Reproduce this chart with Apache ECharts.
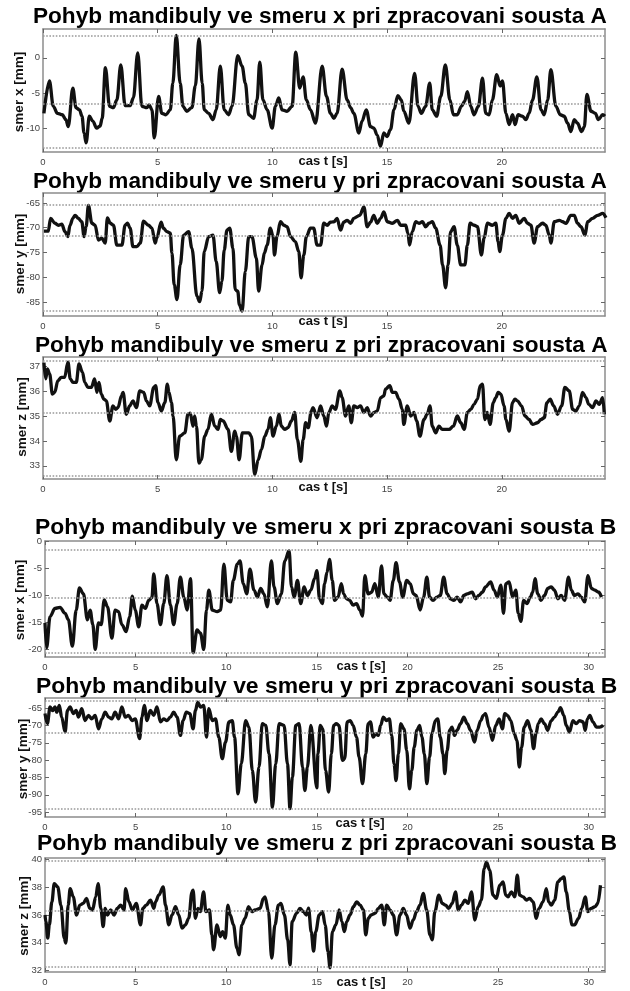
<!DOCTYPE html>
<html><head><meta charset="utf-8">
<script src="https://cdn.jsdelivr.net/npm/echarts@6/dist/echarts.min.js"></script>
<style>html,body{margin:0;padding:0;background:#fff}#c{width:630px;height:991px}</style>
</head><body><div id="c"></div>
<script>
// ---------------- data ----------------
const titles = [
  'Pohyb mandibuly ve smeru x pri zpracovani sousta A',
  'Pohyb mandibuly ve smeru y pri zpracovani sousta A',
  'Pohyb mandibuly ve smeru z pri zpracovani sousta A',
  'Pohyb mandibuly ve smeru x pri zpracovani sousta B',
  'Pohyb mandibuly ve smeru y pri zpracovani sousta B',
  'Pohyb mandibuly ve smeru z pri zpracovani sousta B'
];
const yNames = ['smer x [mm]','smer y [mm]','smer z [mm]','smer x [mm]','smer y [mm]','smer z [mm]'];
const xName = 'cas t [s]';
const xTicksA = [0,5,10,15,20];
const xTicksB = [0,5,10,15,20,25,30];
const xRanges = [[0,24.5],[0,24.5],[0,24.5],[0,30.9],[0,30.9],[0,30.9]];
const yRanges = [[-13.4,4.1],[-87.8,-63.0],[32.47,37.37],[-21.5,0],[-96.4,-62.1],[31.9,40.1]];
const yTicks = [[-10,-5,0],[-85,-80,-75,-70,-65],[33,34,35,36,37],[-20,-15,-10,-5,0],[-95,-90,-85,-80,-75,-70,-65],[32,34,36,38,40]];
// max / mean / min reference lines
const refLines = [[3.1,-6.6,-12.8],[-65.4,-71.6,-86.8],[37.2,35.15,32.6],[-1.7,-10.6,-20.7],[-63.0,-72.0,-94.0],[39.9,36.3,32.3]];

const xA = [[0.04,-7.9],[0.28,-3.3],[0.45,-6.9],[0.63,-7.9],[0.84,-8.1],[1.0,-8.8],[1.1,-9.8],[1.3,-4.3],[1.44,-7.1],[1.59,-7.4],[1.70,-8.3],[1.79,-10.7],[1.88,-12.1],[2.02,-8.3],[2.17,-9.0],[2.34,-10.0],[2.49,-9.7],[2.58,-8.6],[2.72,-1.4],[2.90,-6.9],[3.07,-7.1],[3.22,-6.0],[3.39,-1.0],[3.58,-6.8],[3.80,-6.8],[3.94,-5.7],[4.13,0.7],[4.31,-6.9],[4.53,-7.1],[4.63,-6.7],[4.75,-7.4],[4.85,-11.4],[5.04,-5.5],[5.18,-7.9],[5.36,-8.1],[5.55,-7.4],[5.66,-3.6],[5.81,3.2],[5.98,-3.6],[6.10,-6.9],[6.27,-7.6],[6.49,-7.1],[6.64,-4.0],[6.80,2.7],[6.94,-3.6],[7.03,-7.4],[7.22,-7.9],[7.41,-8.8],[7.55,-7.4],[7.73,-1.2],[7.90,-7.4],[8.09,-8.1],[8.24,-6.9],[8.49,0.3],[8.68,-1.2],[8.82,-3.6],[8.97,-8.1],[9.18,-8.6],[9.33,-6.0],[9.45,-0.6],[9.59,-6.0],[9.77,-7.4],[9.99,-10.0],[10.13,-6.9],[10.28,-5.7],[10.42,-7.4],[10.64,-7.6],[10.86,-6.9],[11.02,0.8],[11.19,-4.3],[11.34,-2.7],[11.48,-6.0],[11.66,-7.4],[11.88,-9.3],[12.17,-1.2],[12.36,-5.5],[12.53,-7.9],[12.68,-8.6],[12.82,-7.9],[13.04,-1.6],[13.26,-6.0],[13.41,-7.1],[13.55,-7.9],[13.77,-10.7],[13.91,-9.0],[14.09,-7.4],[14.28,-9.8],[14.42,-10.0],[14.57,-11.0],[14.71,-12.6],[14.86,-10.7],[15.00,-11.2],[15.15,-10.2],[15.30,-7.4],[15.47,-5.4],[15.62,-6.0],[15.73,-7.6],[15.95,-9.3],[16.20,-2.2],[16.35,-6.9],[16.49,-7.9],[16.68,-6.9],[16.86,-3.6],[16.97,-7.4],[17.16,-8.3],[17.34,-5.5],[17.54,-1.0],[17.74,-6.0],[17.89,-8.1],[18.06,-8.1],[18.24,-6.9],[18.38,-6.2],[18.50,-4.8],[18.65,-6.9],[18.79,-8.1],[18.98,-6.9],[19.16,-2.9],[19.30,-7.9],[19.45,-8.1],[19.59,-6.0],[19.78,-2.4],[19.93,-4.0],[20.03,-3.3],[20.18,-7.9],[20.32,-9.5],[20.47,-8.1],[20.58,-9.5],[20.71,-8.1],[20.90,-8.3],[21.05,-8.8],[21.19,-7.9],[21.34,-6.0],[21.53,-2.7],[21.71,-7.4],[21.85,-8.1],[22.00,-6.0],[22.14,-1.7],[22.36,-6.9],[22.55,-8.1],[22.72,-8.3],[22.87,-9.3],[23.01,-10.5],[23.16,-8.8],[23.30,-9.3],[23.48,-10.5],[23.60,-9.8],[23.71,-5.2],[23.89,-7.6],[24.08,-7.9],[24.21,-8.8],[24.40,-8.1],[24.50,-8.3]];

const yA = [[0.04,-70.7],[0.23,-70.7],[0.33,-68.1],[0.52,-69.1],[0.67,-69.5],[0.82,-69.3],[0.96,-70.8],[1.08,-71.8],[1.18,-69.5],[1.30,-68.1],[1.40,-67.5],[1.54,-68.1],[1.69,-68.8],[1.79,-71.8],[1.88,-69.8],[1.98,-65.5],[2.13,-69.1],[2.27,-69.5],[2.42,-72.5],[2.56,-72.1],[2.71,-73.1],[2.81,-68.0],[2.93,-69.1],[3.07,-69.5],[3.22,-73.5],[3.44,-73.5],[3.58,-69.5],[3.68,-69.1],[3.80,-70.1],[3.92,-73.8],[4.09,-73.8],[4.24,-73.1],[4.38,-68.7],[4.60,-69.5],[4.75,-70.1],[4.89,-73.1],[4.96,-72.1],[5.15,-68.9],[5.25,-70.1],[5.40,-70.8],[5.55,-71.1],[5.62,-75.1],[5.72,-81.5],[5.84,-84.5],[5.98,-77.5],[6.13,-71.5],[6.35,-70.8],[6.49,-74.1],[6.71,-83.8],[6.83,-84.9],[6.93,-82.8],[7.03,-74.8],[7.22,-71.8],[7.41,-71.5],[7.55,-76.8],[7.70,-83.1],[7.80,-80.8],[7.90,-74.5],[8.02,-70.5],[8.14,-70.1],[8.28,-74.1],[8.38,-82.5],[8.49,-82.8],[8.56,-85.5],[8.68,-86.8],[8.82,-78.8],[8.97,-71.8],[9.11,-71.8],[9.30,-76.1],[9.40,-82.8],[9.55,-77.5],[9.65,-75.1],[9.77,-73.5],[9.91,-70.1],[10.03,-71.8],[10.09,-75.5],[10.20,-71.8],[10.35,-68.8],[10.50,-69.5],[10.64,-69.8],[10.79,-71.8],[11.00,-72.8],[11.15,-74.8],[11.25,-80.1],[11.37,-75.5],[11.48,-71.8],[11.66,-70.1],[11.80,-70.1],[11.95,-73.5],[12.10,-73.5],[12.24,-69.1],[12.39,-69.5],[12.53,-68.9],[12.68,-68.8],[12.82,-68.1],[12.97,-70.5],[13.11,-68.9],[13.26,-68.5],[13.41,-69.1],[13.55,-68.1],[13.81,-67.5],[13.99,-65.8],[14.13,-69.8],[14.28,-68.9],[14.42,-67.5],[14.57,-69.1],[14.72,-68.1],[14.86,-66.8],[15.01,-68.8],[15.23,-69.1],[15.45,-68.5],[15.59,-69.5],[15.81,-69.5],[15.91,-71.1],[15.98,-73.5],[16.10,-70.8],[16.25,-68.8],[16.39,-69.1],[16.54,-68.8],[16.68,-69.8],[16.83,-69.1],[16.97,-68.8],[17.12,-70.1],[17.31,-73.5],[17.42,-77.5],[17.55,-82.1],[17.66,-77.5],[17.77,-70.8],[17.92,-69.8],[18.06,-73.5],[18.21,-77.5],[18.39,-77.5],[18.50,-73.5],[18.62,-69.1],[18.79,-69.5],[18.94,-69.8],[19.11,-75.5],[19.23,-72.1],[19.37,-69.1],[19.59,-69.5],[19.74,-69.1],[19.84,-72.8],[19.91,-74.8],[20.03,-71.5],[20.18,-68.1],[20.32,-67.1],[20.47,-68.1],[20.61,-67.5],[20.76,-69.1],[20.98,-68.1],[21.12,-69.1],[21.27,-69.5],[21.41,-73.1],[21.56,-69.8],[21.78,-69.1],[21.92,-69.5],[22.07,-71.5],[22.14,-73.1],[22.29,-68.8],[22.51,-68.5],[22.65,-68.8],[22.80,-69.1],[23.01,-67.5],[23.16,-67.5],[23.30,-69.1],[23.45,-69.8],[23.63,-71.5],[23.74,-68.8],[23.96,-68.1],[24.18,-67.5],[24.40,-67.1],[24.54,-68.0]];

const zA = [[0.04,37.14],[0.12,36.49],[0.19,36.89],[0.29,36.69],[0.41,35.88],[0.51,35.95],[0.65,36.42],[0.80,36.55],[0.94,36.55],[1.09,37.16],[1.19,36.49],[1.31,36.35],[1.45,36.35],[1.57,37.09],[1.72,36.76],[1.82,36.35],[1.96,36.15],[2.11,36.15],[2.25,36.49],[2.35,35.95],[2.44,36.35],[2.54,35.88],[2.65,35.68],[2.76,35.61],[2.91,34.80],[3.05,35.41],[3.17,35.27],[3.27,35.34],[3.42,35.81],[3.49,35.95],[3.63,35.07],[3.78,35.41],[3.92,35.61],[4.07,35.34],[4.22,36.01],[4.39,35.95],[4.51,35.61],[4.65,35.41],[4.83,36.15],[4.91,36.22],[5.01,35.54],[5.16,35.20],[5.31,35.54],[5.42,36.28],[5.49,35.95],[5.60,35.54],[5.67,35.0],[5.81,33.24],[5.96,34.19],[6.18,34.32],[6.32,35.07],[6.42,35.11],[6.54,34.59],[6.61,35.0],[6.69,34.59],[6.80,33.11],[6.90,33.24],[7.05,34.19],[7.19,34.46],[7.34,35.07],[7.49,34.59],[7.63,34.46],[7.73,34.86],[7.85,34.80],[8.07,34.46],[8.21,33.58],[8.36,34.39],[8.43,34.19],[8.55,33.24],[8.69,34.32],[8.84,34.32],[8.98,34.32],[9.08,34.19],[9.23,32.64],[9.38,33.24],[9.52,33.65],[9.67,34.19],[9.81,34.46],[9.91,34.93],[10.03,34.19],[10.17,34.59],[10.29,35.07],[10.39,34.59],[10.54,34.46],[10.68,34.53],[10.83,34.80],[10.97,35.14],[11.09,34.05],[11.24,33.18],[11.34,34.05],[11.45,34.73],[11.56,34.53],[11.70,35.20],[11.77,35.34],[11.95,34.93],[12.10,35.41],[12.24,35.0],[12.36,34.59],[12.46,35.14],[12.61,35.41],[12.75,35.27],[12.94,36.01],[13.04,35.74],[13.19,35.0],[13.33,35.41],[13.44,34.73],[13.55,35.41],[13.70,35.34],[13.84,35.41],[13.99,35.14],[14.13,35.34],[14.28,35.0],[14.43,35.14],[14.57,35.20],[14.72,35.74],[14.86,35.81],[14.93,36.08],[15.12,36.22],[15.23,35.95],[15.37,35.95],[15.52,35.68],[15.66,35.27],[15.73,34.66],[15.88,35.41],[16.03,35.0],[16.17,35.14],[16.29,34.80],[16.43,34.19],[16.61,34.86],[16.75,35.07],[16.87,35.41],[16.97,34.59],[17.12,34.32],[17.26,34.59],[17.41,34.46],[17.55,34.46],[17.70,34.46],[17.89,34.59],[18.06,35.0],[18.21,34.73],[18.36,34.46],[18.50,35.14],[18.65,35.27],[18.79,35.47],[18.94,35.68],[19.06,36.22],[19.16,36.28],[19.26,34.86],[19.37,35.14],[19.49,34.66],[19.63,35.54],[19.74,35.74],[19.84,35.95],[19.96,35.88],[20.10,35.41],[20.18,34.86],[20.32,34.39],[20.47,35.54],[20.57,35.68],[20.68,35.61],[20.86,35.41],[21.01,35.0],[21.19,34.86],[21.34,34.66],[21.56,34.73],[21.71,34.86],[21.85,34.93],[21.97,35.54],[22.11,35.68],[22.26,35.41],[22.43,35.07],[22.61,35.41],[22.75,36.15],[22.94,36.01],[23.09,35.27],[23.23,35.20],[23.38,35.41],[23.52,35.95],[23.67,35.74],[23.79,35.47],[23.96,35.34],[24.11,35.61],[24.25,35.47],[24.40,35.74],[24.47,35.07]];

const xB = [[0,-15.2],[0.09,-19.8],[0.28,-14.0],[0.55,-12.5],[0.83,-12.3],[1.11,-13.4],[1.29,-14.6],[1.51,-19.5],[1.72,-12.8],[1.90,-8.7],[2.12,-9.8],[2.34,-14.6],[2.49,-12.8],[2.64,-15.5],[2.77,-20.1],[2.95,-15.2],[3.10,-15.5],[3.27,-10.9],[3.45,-12.2],[3.69,-18.0],[3.87,-12.8],[4.06,-13.1],[4.24,-15.5],[4.48,-16.8],[4.67,-14.0],[4.82,-10.2],[4.98,-12.8],[5.17,-15.9],[5.35,-11.9],[5.54,-12.5],[5.72,-11.0],[5.90,-10.5],[6.00,-6.1],[6.18,-11.6],[6.37,-15.5],[6.55,-11.6],[6.73,-6.4],[6.92,-11.9],[7.10,-15.5],[7.29,-11.6],[7.47,-6.7],[7.66,-10.4],[7.84,-12.8],[8.03,-7.0],[8.17,-20.7],[8.39,-16.5],[8.58,-17.1],[8.76,-20.1],[8.91,-12.8],[9.04,-9.1],[9.23,-12.8],[9.50,-13.1],[9.69,-12.8],[9.87,-4.3],[10.06,-11.0],[10.24,-11.3],[10.39,-7.3],[10.61,-4.3],[10.76,-3.7],[10.94,-7.9],[11.13,-9.8],[11.31,-5.2],[11.53,-9.1],[11.72,-10.4],[11.90,-8.8],[12.08,-9.8],[12.27,-12.2],[12.49,-3.7],[12.64,-8.5],[12.82,-11.6],[13.04,-9.8],[13.23,-3.7],[13.47,-1.8],[13.60,-8.5],[13.75,-10.4],[13.93,-7.3],[14.11,-11.6],[14.30,-8.5],[14.48,-10.1],[14.67,-9.1],[14.87,-7.0],[15.0,-5.5],[15.15,-10.7],[15.30,-11.6],[15.43,-7.9],[15.56,-5.8],[15.70,-3.4],[15.85,-7.3],[15.98,-11.0],[16.17,-10.4],[16.35,-7.9],[16.48,-9.8],[16.63,-10.7],[16.81,-11.0],[17.0,-11.9],[17.19,-11.6],[17.37,-12.8],[17.52,-13.9],[17.65,-6.4],[17.83,-9.8],[18.02,-9.5],[18.20,-7.9],[18.39,-10.4],[18.57,-4.6],[18.70,-9.8],[18.89,-10.4],[19.04,-11.0],[19.22,-7.3],[19.37,-4.0],[19.56,-7.6],[19.74,-10.4],[19.96,-7.3],[20.15,-7.9],[20.33,-9.8],[20.48,-10.1],[20.70,-12.8],[20.89,-10.4],[21.07,-6.7],[21.22,-10.4],[21.41,-11.0],[21.63,-10.4],[21.81,-10.1],[22.0,-6.7],[22.19,-9.8],[22.37,-10.7],[22.56,-11.0],[22.74,-10.4],[22.93,-11.3],[23.11,-10.1],[23.30,-9.8],[23.57,-9.5],[23.76,-10.7],[23.94,-10.1],[24.13,-9.5],[24.31,-8.5],[24.59,-7.6],[24.78,-9.1],[24.96,-10.4],[25.15,-8.2],[25.30,-13.4],[25.43,-7.9],[25.61,-7.6],[25.80,-10.4],[25.98,-9.1],[26.11,-13.4],[26.26,-14.9],[26.41,-11.0],[26.59,-11.6],[26.78,-10.4],[26.91,-9.5],[27.04,-7.0],[27.19,-9.8],[27.37,-11.0],[27.56,-10.1],[27.74,-8.8],[27.93,-8.5],[28.11,-9.1],[28.30,-10.7],[28.48,-10.1],[28.67,-11.0],[28.89,-6.7],[29.04,-9.1],[29.22,-10.1],[29.41,-9.8],[29.59,-10.4],[29.78,-11.3],[29.96,-6.4],[30.15,-8.8],[30.33,-9.1],[30.56,-9.5],[30.70,-10.4]];

const yB = [[0,-66.6],[0.13,-69.5],[0.28,-64.7],[0.42,-65.7],[0.55,-64.7],[0.65,-66.2],[0.79,-64.2],[0.92,-67.6],[1.11,-71.9],[1.24,-65.7],[1.38,-64.7],[1.57,-66.6],[1.72,-65.7],[1.85,-67.6],[2.03,-65.2],[2.21,-68.6],[2.40,-67.1],[2.58,-68.1],[2.77,-67.1],[2.95,-71.0],[3.14,-68.1],[3.32,-66.2],[3.51,-67.6],[3.69,-68.1],[3.87,-66.2],[4.06,-68.1],[4.24,-64.7],[4.43,-67.6],[4.61,-67.1],[4.80,-68.6],[4.98,-68.1],[5.22,-73.8],[5.35,-67.6],[5.48,-64.2],[5.63,-68.6],[5.81,-65.7],[6.0,-67.1],[6.18,-64.7],[6.37,-69.0],[6.55,-68.1],[6.73,-68.6],[6.92,-67.6],[7.10,-66.2],[7.29,-67.6],[7.47,-72.9],[7.62,-68.6],[7.80,-66.2],[7.99,-66.6],[8.17,-71.0],[8.30,-65.7],[8.43,-63.3],[8.58,-64.7],[8.76,-64.2],[8.91,-73.4],[9.04,-65.2],[9.23,-68.6],[9.41,-68.1],[9.59,-73.4],[9.78,-79.6],[9.96,-74.8],[10.15,-69.0],[10.33,-68.6],[10.46,-73.4],[10.65,-89.7],[10.83,-81.1],[11.07,-68.6],[11.25,-70.5],[11.44,-83.0],[11.62,-92.1],[11.81,-82.0],[11.99,-69.5],[12.18,-70.0],[12.36,-78.2],[12.55,-93.6],[12.73,-81.1],[12.92,-69.5],[13.19,-70.0],[13.38,-81.1],[13.52,-94.0],[13.65,-84.9],[13.84,-70.0],[14.02,-69.5],[14.21,-82.0],[14.34,-88.8],[14.48,-82.0],[14.67,-70.0],[15.0,-88.0],[15.06,-78.2],[15.19,-70.0],[15.33,-71.0],[15.48,-83.0],[15.65,-89.2],[15.80,-78.2],[15.93,-70.0],[16.07,-69.5],[16.22,-70.0],[16.41,-80.1],[16.54,-79.6],[16.67,-69.0],[16.85,-68.6],[17.0,-70.0],[17.19,-73.4],[17.33,-79.1],[17.52,-86.8],[17.70,-78.2],[17.83,-69.5],[17.96,-69.0],[18.11,-73.4],[18.24,-72.4],[18.39,-72.9],[18.52,-70.0],[18.67,-67.6],[18.85,-68.6],[19.0,-68.1],[19.13,-72.9],[19.26,-81.1],[19.37,-85.9],[19.50,-78.2],[19.63,-69.5],[19.81,-71.0],[19.96,-77.2],[20.11,-88.3],[20.24,-83.0],[20.37,-76.3],[20.52,-71.4],[20.67,-70.0],[20.80,-73.4],[20.93,-78.2],[21.07,-86.8],[21.22,-79.1],[21.35,-72.4],[21.54,-68.6],[21.67,-68.1],[21.81,-73.4],[21.96,-78.2],[22.06,-83.9],[22.19,-77.2],[22.33,-71.4],[22.46,-70.5],[22.59,-72.9],[22.74,-71.4],[22.93,-69.5],[23.11,-67.6],[23.30,-69.5],[23.48,-71.4],[23.70,-74.8],[23.85,-71.4],[24.04,-68.6],[24.19,-67.1],[24.31,-66.6],[24.50,-70.5],[24.69,-74.3],[24.87,-70.0],[25.06,-68.1],[25.24,-71.0],[25.37,-66.6],[25.52,-67.1],[25.70,-68.6],[25.89,-72.4],[26.04,-74.3],[26.17,-82.0],[26.30,-76.3],[26.44,-70.5],[26.63,-68.6],[26.81,-71.4],[26.96,-76.7],[27.09,-72.4],[27.22,-69.5],[27.37,-68.1],[27.56,-69.5],[27.74,-71.4],[27.93,-68.6],[28.11,-67.6],[28.30,-66.2],[28.44,-64.9],[28.63,-67.1],[28.76,-70.0],[28.94,-71.9],[29.13,-68.6],[29.31,-69.5],[29.50,-68.6],[29.69,-69.0],[29.81,-71.4],[29.93,-68.1],[30.06,-67.1],[30.24,-69.0],[30.43,-70.5],[30.61,-70.5],[30.80,-70.0]];

const zB = [[0,36.0],[0.05,35.52],[0.15,34.33],[0.24,35.29],[0.38,36.95],[0.51,38.26],[0.70,38.02],[0.88,36.71],[1.06,34.33],[1.15,33.98],[1.28,36.71],[1.39,37.90],[1.56,37.31],[1.74,36.0],[1.92,36.71],[2.11,36.83],[2.29,37.19],[2.47,36.48],[2.62,36.36],[2.80,37.31],[2.93,38.26],[3.08,36.48],[3.21,35.17],[3.32,36.48],[3.44,36.0],[3.63,36.36],[3.81,36.0],[3.99,36.48],[4.18,36.71],[4.36,36.36],[4.45,37.90],[4.63,36.95],[4.82,36.36],[5.04,36.83],[5.27,35.29],[5.40,36.48],[5.59,36.71],[5.82,37.07],[6.01,36.48],[6.10,36.95],[6.28,37.43],[6.52,38.02],[6.65,36.71],[6.83,35.29],[7.01,36.0],[7.20,36.60],[7.38,36.0],[7.56,35.05],[7.75,35.29],[7.93,35.76],[8.11,37.67],[8.17,37.79],[8.30,35.76],[8.44,36.48],[8.57,36.24],[8.75,37.67],[8.88,36.24],[9.07,36.36],[9.21,34.57],[9.30,33.50],[9.49,35.29],[9.67,34.45],[9.80,34.81],[9.95,34.33],[10.09,36.71],[10.22,36.0],[10.40,35.29],[10.59,33.62],[10.71,33.14],[10.86,35.29],[11.04,35.76],[11.23,36.60],[11.41,36.24],[11.59,36.36],[11.87,36.48],[12.05,37.19],[12.14,37.31],[12.33,36.24],[12.51,32.90],[12.69,35.29],[12.88,36.71],[13.02,36.83],[13.21,36.0],[13.39,34.21],[13.52,32.43],[13.64,35.52],[13.88,36.12],[14.07,36.48],[14.25,36.24],[14.43,36.0],[14.54,36.5],[14.69,34.8],[14.82,33.4],[14.94,34.8],[15.13,36.0],[15.31,36.24],[15.46,35.29],[15.61,33.38],[15.73,32.19],[15.86,34.81],[16.05,35.29],[16.23,36.36],[16.38,35.52],[16.52,34.81],[16.65,35.52],[16.83,36.0],[17.02,36.60],[17.20,36.95],[17.39,36.71],[17.57,36.36],[17.70,34.57],[17.84,35.76],[17.99,36.0],[18.21,36.12],[18.39,36.48],[18.58,36.71],[18.72,35.29],[18.85,36.71],[19.04,36.36],[19.22,36.0],[19.40,34.57],[19.59,36.0],[19.77,36.48],[19.95,36.0],[20.14,35.05],[20.32,35.64],[20.50,36.24],[20.69,36.71],[20.87,37.55],[21.06,36.36],[21.24,34.57],[21.37,34.21],[21.51,36.24],[21.73,37.43],[21.92,36.83],[22.10,36.71],[22.28,36.48],[22.47,36.83],[22.65,37.67],[22.80,36.36],[22.98,36.71],[23.17,37.07],[23.35,36.83],[23.53,37.67],[23.72,35.64],[23.90,36.60],[24.08,37.07],[24.23,39.33],[24.36,39.81],[24.54,39.21],[24.72,37.43],[24.91,37.19],[25.09,38.14],[25.28,38.38],[25.42,37.43],[25.55,37.31],[25.73,37.67],[25.92,37.31],[26.06,38.86],[26.19,37.43],[26.38,37.31],[26.56,37.07],[26.74,37.19],[26.93,36.95],[27.11,35.76],[27.26,36.48],[27.48,36.95],[27.66,37.90],[27.79,36.95],[27.94,36.71],[28.12,37.07],[28.30,38.38],[28.49,38.62],[28.63,38.74],[28.76,37.67],[28.94,36.24],[29.07,35.29],[29.22,35.29],[29.44,35.76],[29.62,36.48],[29.81,37.31],[29.95,36.24],[30.14,36.48],[30.36,36.60],[30.50,36.83],[30.65,38.14]];

const seriesData = [xA, yA, zA, xB, yB, zB];

// ---------------- layout ----------------
const gridTops = [29,193,357,541,698,858];
const gridHeights = [123,123,122,116,119,114];
const gridLefts = [43,43,43,45,45,45];
const titleY = [17,182,345.5,528,686.5,844];
const titleX = [33,33,35,35,36,37];
const titleSize = [22.6,22.6,22.6,22.9,22.9,22.9];
const yNameX = [19,20,22,20,23,24];
const yNameY = [92,254,417,600,759,916];
const xNameX = [323,323,323,361,360,361];
const xNameY = [161,321,487,666,823,982];

const FONT = '"Liberation Sans", Arial, sans-serif';
const frameColor = '#8c8c8c';
const grid=[], xAxis=[], yAxis=[], series=[], graphic=[];
for (let i=0;i<6;i++){
  grid.push({left:gridLefts[i], right:25, top:gridTops[i], height:gridHeights[i], containLabel:false});
  const xt = i<3 ? xTicksA : xTicksB;
  const common = {type:'value', gridIndex:i, splitLine:{show:false},
    axisLine:{show:true, onZero:false, lineStyle:{color:frameColor, width:1.5}}};
  xAxis.push(Object.assign({}, common, {position:'bottom', min:xRanges[i][0], max:xRanges[i][1],
    axisTick:{show:true, inside:true, length:4, customValues:xt, lineStyle:{color:'#666'}},
    axisLabel:{show:true, customValues:xt, margin:5, fontSize:9.5, color:'#444', fontFamily:FONT}}));
  xAxis.push(Object.assign({}, common, {position:'top', min:xRanges[i][0], max:xRanges[i][1],
    axisTick:{show:true, inside:true, length:4, customValues:xt, lineStyle:{color:'#666'}},
    axisLabel:{show:false}}));
  yAxis.push(Object.assign({}, common, {position:'left', min:yRanges[i][0], max:yRanges[i][1],
    axisTick:{show:true, inside:true, length:4, customValues:yTicks[i], lineStyle:{color:'#666'}},
    axisLabel:{show:true, customValues:yTicks[i], margin:3, fontSize:9.5, color:'#444', fontFamily:FONT}}));
  yAxis.push(Object.assign({}, common, {position:'right', min:yRanges[i][0], max:yRanges[i][1],
    axisTick:{show:true, inside:true, length:4, customValues:yTicks[i], lineStyle:{color:'#666'}},
    axisLabel:{show:false}}));
  series.push({type:'line', xAxisIndex:2*i, yAxisIndex:2*i, data:seriesData[i],
    showSymbol:false, smooth:0.35, smoothMonotone:'x',
    lineStyle:{color:'#111', width:3.3}, z:3,
    markLine:{silent:true, symbol:['none','none'], label:{show:false}, animation:false,
      lineStyle:{type:'dotted', color:'#999', width:1.6},
      data: refLines[i].map(v=>({yAxis:v}))}});
  graphic.push({type:'text', x:titleX[i], y:titleY[i], style:{text:titles[i], font:'bold '+titleSize[i]+'px '+FONT, fill:'#000', textAlign:'left', textVerticalAlign:'middle'}});
  graphic.push({type:'text', x:yNameX[i], y:yNameY[i], rotation:Math.PI/2, style:{text:yNames[i], font:'bold 13.5px '+FONT, fill:'#111', textAlign:'center', textVerticalAlign:'middle'}});
  graphic.push({type:'text', x:xNameX[i], y:xNameY[i], style:{text:xName, font:'bold 13px '+FONT, fill:'#111', textAlign:'center', textVerticalAlign:'middle'}});
}
const chart = echarts.init(document.getElementById('c'), null, {renderer:'canvas'});
chart.setOption({animation:false, backgroundColor:'#fff', grid, xAxis, yAxis, series, graphic});
</script>
</body></html>
